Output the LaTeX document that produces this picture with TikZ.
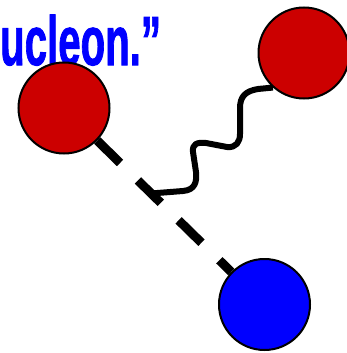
\documentclass[tikz,border=0pt]{standalone}
\usepackage{fontspec}
\setmainfont{Liberation Sans}
\newfontfamily\headfont[FakeBold=1.6]{Liberation Sans Bold}
\usetikzlibrary{calc,backgrounds}
\definecolor{nucRed}{RGB}{204,0,0}
\definecolor{nucBlue}{RGB}{0,0,255}

\begin{document}
\begin{tikzpicture}[x=0.75pt,y=-0.75pt,
  quark/.style={circle,draw=black,line width=1.5pt,minimum size=68.25pt,inner sep=0pt},
  pion/.style={line width=6.75pt,dash pattern=on 24pt off 18.75pt},
  gluon/.style={line width=4.5pt,line join=round},
  headline/.style={text=nucBlue,font=\headfont\fontsize{52}{52}\selectfont,inner sep=0pt}]
  \useasboundingbox (0,0) rectangle (346,353);
  \node[headline,anchor=base west,xscale=0.58] (title) at (0,65) {ucleon.”};
  \node[quark,fill=nucRed] (red1) at (64,108) {};
  \node[quark,fill=nucRed] (red2) at (304,53) {};
  \node[quark,fill=nucBlue] (blue) at (264.5,304.5) {};
  \coordinate (v) at ($(red1)!0.435!(blue)$);
  \begin{scope}[on background layer]
    \draw[pion] (red1) -- (blue);
    \draw[gluon] (v) -- (183,191) .. controls (195,190) and (197,182) .. (196,172)
      -- (193,152) .. controls (192,144) and (197,142) .. (206,143)
      -- (227,147) .. controls (236,148) and (240,142) .. (240,134)
      -- (240,108) .. controls (240,96) and (246,91) .. (258,89) -- (red2.228);
  \end{scope}
\end{tikzpicture}
\end{document}
